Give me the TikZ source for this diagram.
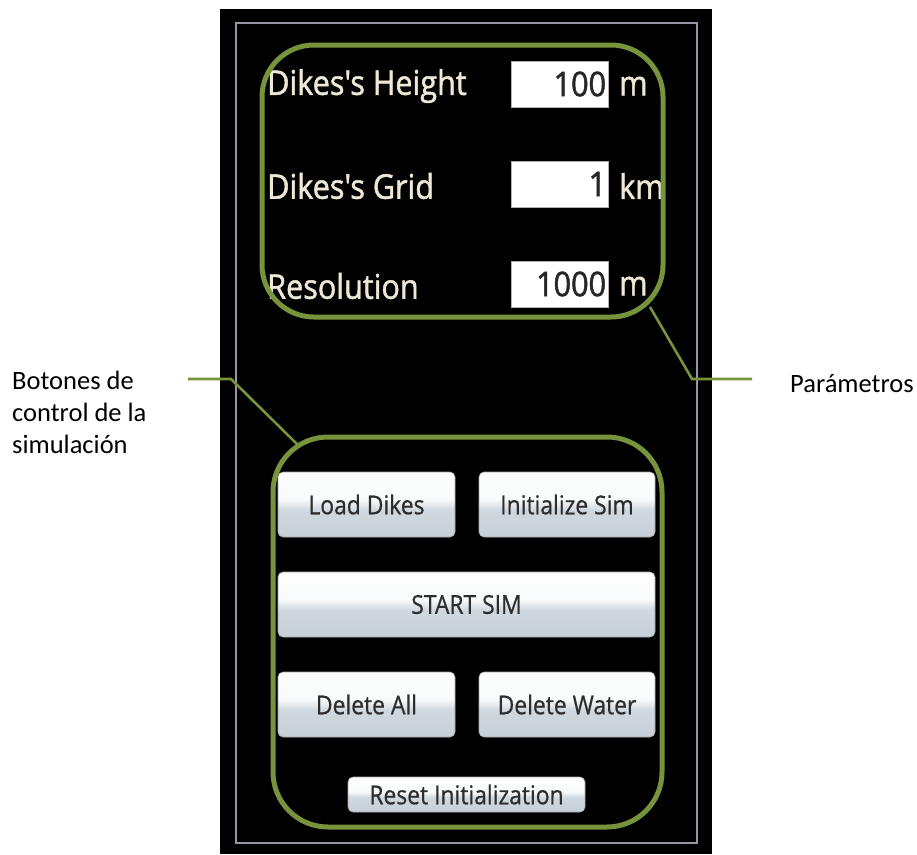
\documentclass[tikz,border=0pt]{standalone}
\usepackage{fontspec}
\setmainfont{Carlito}
\newfontfamily\uifont[FakeStretch=0.9, FakeBold=1.4]{Open Sans}
\newfontfamily\btnfont[FakeStretch=0.88, FakeBold=0.6]{Open Sans}
\definecolor{olive}{RGB}{119,147,60}
\definecolor{panelline}{RGB}{150,150,165}
\definecolor{cream}{RGB}{240,232,215}
\definecolor{btnlow}{RGB}{186,198,208}
\definecolor{btnmid}{RGB}{208,216,223}
\definecolor{btntext}{RGB}{45,45,45}
% glossy push-button fill: light upper half, blue-grey lower half
\pgfdeclareverticalshading{btnshade}{100bp}{color(0bp)=(btnlow); color(46bp)=(btnmid); color(54bp)=(white!92!btnlow); color(85bp)=(white); color(100bp)=(white)}
\tikzset{
  group/.style={draw=olive, line width=5pt, rounded corners=52pt},
  callout/.style={draw=olive, line width=2.6pt},
  fieldbox/.style={fill=white, draw=gray!60, line width=0.6pt, minimum width=97pt, minimum height=46pt, inner sep=0pt},
  fieldtxt/.style={font=\uifont\fontsize{34}{34}\selectfont, text=black!85, anchor=east, inner sep=2pt},
  paramtxt/.style={font=\uifont\fontsize{34}{34}\selectfont, text=cream, anchor=west, inner sep=0pt},
  unittxt/.style={font=\uifont\fontsize{34}{34}\selectfont, text=cream, anchor=west, inner sep=0pt},
  btn/.style={draw=gray!70, line width=0.6pt, rounded corners=5pt, shading=btnshade, text=btntext, font=\btnfont\fontsize{26}{26}\selectfont, inner sep=0pt},
  note/.style={font=\fontsize{26.5}{32}\selectfont, text=black, align=left, inner sep=0pt}
}
\begin{document}
\begin{tikzpicture}[x=1pt,y=-1pt]
\useasboundingbox (0,0) rectangle (917,854);
% application panel
\fill[black] (220,9) rectangle (712,854);
\draw[panelline, line width=1.8pt] (236,23) rectangle (697,843);

% parameter fields
\node[paramtxt] (lh) at (267,86) {Dikes's Height};
\node[paramtxt] (lg) at (267,186) {Dikes's Grid};
\node[paramtxt] (lr) at (267,286) {Resolution};
\node[fieldbox] (fh) at (559.5,84) {};
\node[fieldbox] (fg) at (559.5,184) {};
\node[fieldbox] (fr) at (559.5,284) {};
\node[fieldtxt] at (fh.east) {100};
\node[fieldtxt] at (fg.east) {1};
\node[fieldtxt] at (fr.east) {1000};
\node[unittxt] (uh) at (619,86) {m};
\node[unittxt] (ug) at (619,186) {km};
\node[unittxt] (ur) at (619,286) {m};

% control buttons
\node[btn, minimum width=177pt, minimum height=65pt] (load) at (366.5,504.5) {Load Dikes};
\node[btn, minimum width=176pt, minimum height=65pt] (init) at (567,504.5) {Initialize Sim};
\node[btn, minimum width=377pt, minimum height=65pt] (start) at (466.5,604.5) {START SIM};
\node[btn, minimum width=177pt, minimum height=65pt] (dall) at (366.5,704.5) {Delete All};
\node[btn, minimum width=176pt, minimum height=65pt] (dwat) at (567,704.5) {Delete Water};
\node[btn, minimum width=237pt, minimum height=35pt] (reset) at (466.5,794.5) {Reset Initialization};

% groupings
\draw[group] (262,45) rectangle (663,317);
\draw[group, rounded corners=55pt] (273,437) rectangle (662,827);

% callouts
\node[note, anchor=north west] (ctl) at (12,371) {Botones de\\control de la\\simulación};
\node[note, anchor=west] (par) at (790,384) {Parámetros};
\coordinate (lA) at (188,379);
\coordinate (lB) at (231,379);
\coordinate (lC) at (300,447);
\coordinate (rA) at (650,307);
\coordinate (rB) at (692,379);
\coordinate (rC) at (752,379);
\draw[callout] (lA) -- (lB) -- (lC);
\draw[callout] (rA) -- (rB) -- (rC);
\end{tikzpicture}
\end{document}
